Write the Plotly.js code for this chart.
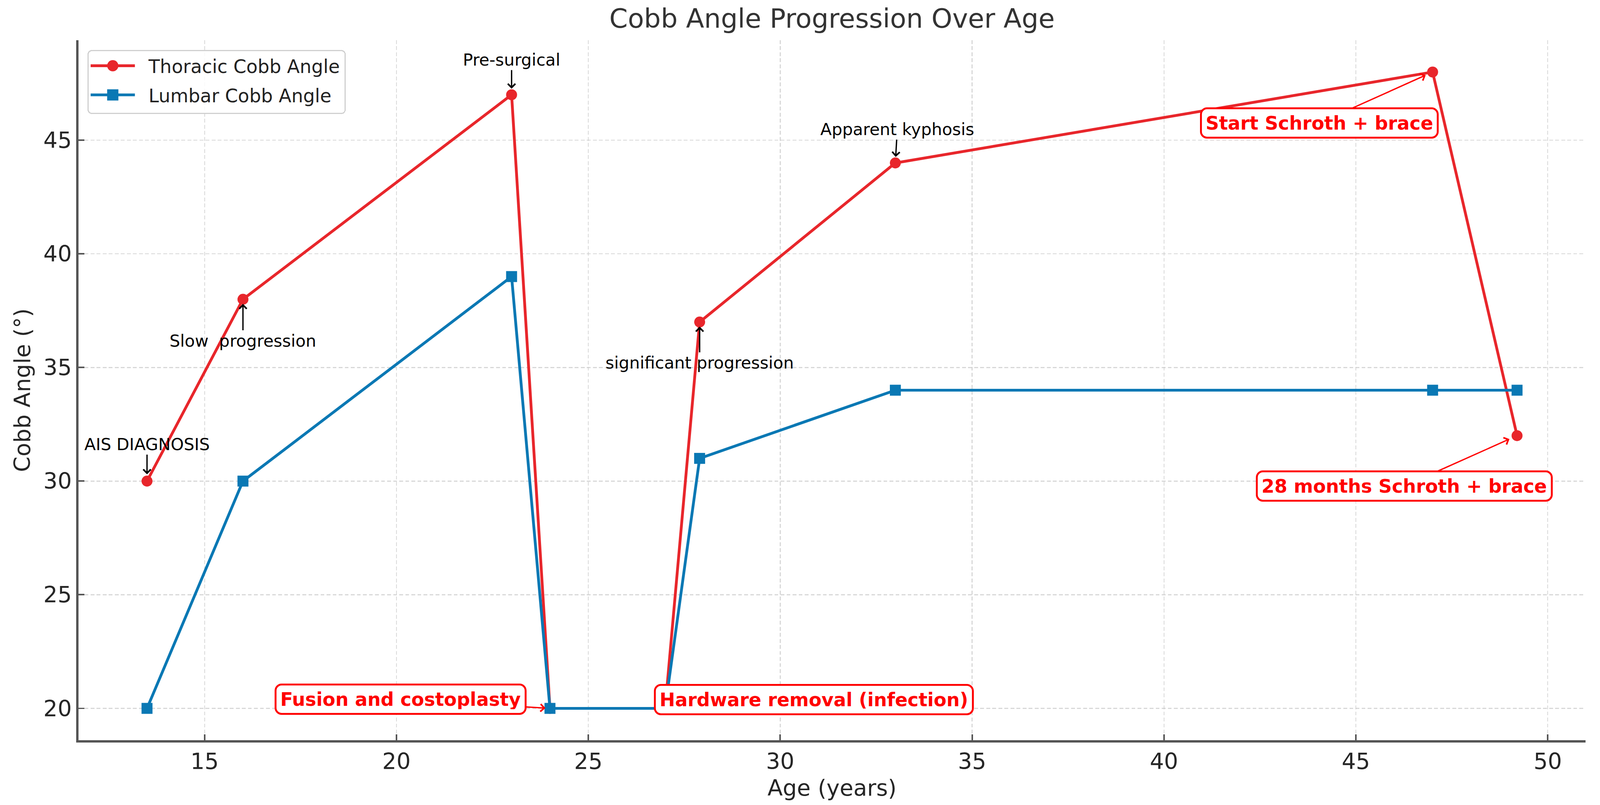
<!DOCTYPE html>
<html>
<head>
<meta charset="utf-8">
<script src="https://cdn.plot.ly/plotly-3.0.1.min.js"></script>
<style>
  html, body { margin: 0; padding: 0; background: #ffffff; overflow: hidden; }
  #chart { display: block; }
</style>
</head>
<body>
<div id="chart"></div>
<script>
// ---- data ----
const ages = [13.5, 16, 23, 24, 27, 27.9, 33, 47, 49.2];
const thoracic = [30, 38, 47, 20, 20, 37, 44, 48, 32];
const lumbar = [20, 30, 39, 20, 20, 31, 34, 34, 34];
const seriesNames = ["Thoracic Cobb Angle", "Lumbar Cobb Angle"];
const xTicks = [15, 20, 25, 30, 35, 40, 45, 50];
const yTicks = [20, 25, 30, 35, 40, 45];

// plain notes: label and index of the thoracic point they point at
const noteLabels = ["AIS DIAGNOSIS", "Slow\u00a0\u00a0progression", "Pre-surgical", "significant progression", "Apparent kyphosis"];
const noteIndex = [0, 1, 2, 5, 6];
// boxed events: label and index of the thoracic point
const eventLabels = ["Start Schroth + brace", "28 months Schroth + brace", "Fusion and costoplasty", "Hardware removal (infection)"];
const eventIndex = [7, 8, 3, 4];

// the chart is laid out in the 4230 x 2062 frame of the reference and fitted to the viewport
const W = window.innerWidth || 4230;
const H = window.innerHeight || 2062;
const SX = W / 4230, SY = H / 2062, S = Math.min(SX, SY);
const px = v => v * S;

const RED = "#e8262b";
const BLUE = "#0a78b4";
const FONT = "DejaVu Sans";

const traces = [
  {
    x: ages, y: thoracic, name: seriesNames[0], type: "scatter", mode: "lines+markers",
    line: { color: RED, width: px(7.4) },
    marker: { color: RED, size: px(29), symbol: "circle" }
  },
  {
    x: ages, y: lumbar, name: seriesNames[1], type: "scatter", mode: "lines+markers",
    line: { color: BLUE, width: px(7.4) },
    marker: { color: BLUE, size: px(29), symbol: "square" }
  }
];

const noteText = [[13.5, 31.62], [16, 36.18], [23, 48.54], [27.9, 35.21], [33.05, 45.48]];
const noteStandoff = [18, 12, 16, 12, 16];

const annotations = [];
noteLabels.forEach((lab, k) => {
  const i = noteIndex[k];
  annotations.push({
    x: ages[i], y: thoracic[i], xref: "x", yref: "y",
    ax: noteText[k][0], ay: noteText[k][1], axref: "x", ayref: "y",
    text: lab, showarrow: true,
    arrowhead: 4, arrowsize: 1.1, arrowwidth: px(3.5), arrowcolor: "#000000",
    standoff: px(noteStandoff[k]),
    font: { family: FONT, size: px(44), color: "#000000" }
  });
});

const eventText = [[44.05, 45.76], [46.26, 29.78], [20.11, 20.4], [30.88, 20.38]];
const eventStandoff = [20, 22, 12, 0];
const eventArrow = [true, true, true, false];
eventLabels.forEach((lab, k) => {
  const i = eventIndex[k];
  const a = {
    text: "<b>" + lab + "</b>",
    font: { family: FONT, size: px(49), color: "#ff0000" },
    bgcolor: "#ffffff", bordercolor: "#ff0000", borderwidth: px(5), borderpad: px(10),
    height: 51 * SY,
    xref: "x", yref: "y"
  };
  if (eventArrow[k]) {
    Object.assign(a, {
      x: ages[i], y: thoracic[i],
      ax: eventText[k][0], ay: eventText[k][1], axref: "x", ayref: "y",
      showarrow: true, arrowhead: 4, arrowsize: 1.1, arrowwidth: px(3.5),
      arrowcolor: "#ff0000", standoff: px(eventStandoff[k])
    });
  } else {
    Object.assign(a, {
      x: eventText[k][0], y: eventText[k][1], showarrow: false,
      xanchor: "center", yanchor: "middle"
    });
  }
  annotations.push(a);
});

const axisCommon = {
  showline: true, linecolor: "#555555", linewidth: px(6), mirror: false,
  ticks: "inside", ticklen: px(16), tickwidth: px(4), tickcolor: "#555555",
  showgrid: true, gridcolor: "rgba(200,200,200,0.7)", gridwidth: px(2.5),
  griddash: px(10) + "px," + px(6) + "px",
  zeroline: false,
  tickfont: { family: FONT, size: px(59), color: "#262626" }
};

const layout = {
  width: W, height: H,
  paper_bgcolor: "#ffffff", plot_bgcolor: "#ffffff",
  margin: { l: 208 * SX, r: 38 * SX, t: 103 * SY, b: 166 * SY, pad: 0 },
  font: { family: FONT, color: "#262626" },
  title: {
    text: "Cobb Angle Progression Over Age",
    font: { family: FONT, size: px(70), color: "#333333" },
    x: 0.5, xref: "paper", xanchor: "center",
    y: 1 - 47 / 2062, yref: "container", yanchor: "middle"
  },
  xaxis: Object.assign({}, axisCommon, {
    range: [11.715, 50.985], tickvals: xTicks, ticktext: xTicks.map(String),
    ticklabelstandoff: 0,
    title: { text: "Age (years)", font: { family: FONT, size: px(59), color: "#262626" }, standoff: px(18) }
  }),
  yaxis: Object.assign({}, axisCommon, {
    range: [18.6, 49.4], tickvals: yTicks, ticktext: yTicks.map(String),
    ticklabelstandoff: px(16),
    title: { text: "Cobb Angle (°)", font: { family: FONT, size: px(59), color: "#262626" }, standoff: px(18) }
  }),
  showlegend: true,
  legend: {
    x: 0.006, y: 0.986, xanchor: "left", yanchor: "top",
    bgcolor: "rgba(255,255,255,0.85)", bordercolor: "#d0d0d0", borderwidth: px(3),
    font: { family: FONT, size: px(49), color: "#222222" },
    itemwidth: px(117), tracegroupgap: 0
  },
  annotations: annotations
};

Plotly.newPlot("chart", traces, layout, { staticPlot: true, displayModeBar: false }).then(gd => {
  // rounded corners for the boxed event labels
  gd.querySelectorAll(".annotation rect.bg").forEach(r => {
    const sw = parseFloat(r.style.strokeWidth || r.getAttribute("stroke-width") || "0");
    if (sw > 0) { r.setAttribute("rx", px(16)); r.setAttribute("ry", px(16)); }
  });
  // legend: larger markers, wider text gap, taller rows, rounded frame (matplotlib look)
  const dx = 31 * SX, dy = 10 * SY, extraH = 18 * SY, extraW = 37 * SX;
  gd.querySelectorAll(".legend .legendpoints path").forEach(p => {
    const t = p.getAttribute("transform") || "";
    p.setAttribute("transform", t + " scale(1.8)");
  });
  gd.querySelectorAll(".legend text.legendtext").forEach(t => {
    t.setAttribute("x", parseFloat(t.getAttribute("x") || "0") + dx);
  });
  gd.querySelectorAll(".legend g.traces").forEach((g, i) => {
    const t = g.getAttribute("transform") || "";
    const m = t.match(/translate\(\s*([-\d.e]+)[\s,]+([-\d.e]+)\s*\)/);
    if (m) g.setAttribute("transform", "translate(" + m[1] + "," + (parseFloat(m[2]) + i * dy) + ")");
  });
  const bg = gd.querySelector(".legend rect.bg");
  if (bg) {
    bg.setAttribute("width", parseFloat(bg.getAttribute("width")) + extraW);
    bg.setAttribute("height", parseFloat(bg.getAttribute("height")) + extraH);
    bg.setAttribute("rx", px(10)); bg.setAttribute("ry", px(10));
  }
  document.querySelectorAll("clipPath rect").forEach(r => {
    const id = (r.parentNode && r.parentNode.id) || "";
    if (id.indexOf("legend") >= 0) {
      r.setAttribute("width", parseFloat(r.getAttribute("width") || "0") + extraW);
      r.setAttribute("height", parseFloat(r.getAttribute("height") || "0") + extraH);
    }
  });
});
</script>
</body>
</html>
